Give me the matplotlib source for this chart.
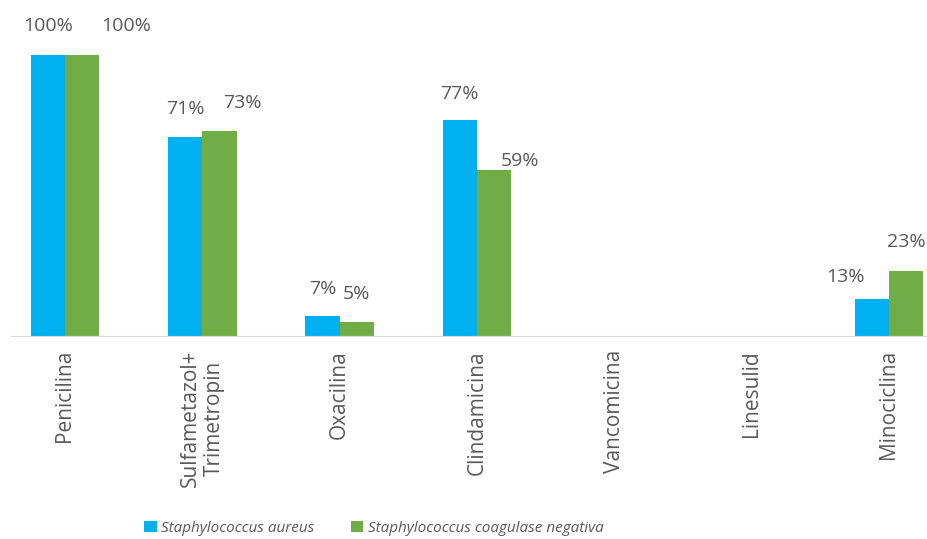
import numpy as np
import matplotlib.pyplot as plt

categorias = ["Penicilina", "Sulfametazol+\nTrimetropin", "Oxacilina", "Clindamicina",
              "Vancomicina", "Linesulid", "Minociclina"]
aureus = [100, 71, 7, 77, 0, 0, 13]
coag_neg = [100, 73, 5, 59, 0, 0, 23]
series_nombres = ["Staphylococcus aureus", "Staphylococcus coagulase negativa"]

# desplazamiento manual de etiquetas (px): (dx, separacion sobre la barra)
desp_aureus = [(0, 20), (0, 19), (0, 18), (0, 17), None, None, (-26, 13)]
desp_coag = [(44, 20), (23, 19), (0, 19), (26, 0), None, None, (0, 20)]

plt.rcParams['font.family'] = ['Open Sans', 'DejaVu Sans']
gris = '#595959'

fig = plt.figure(figsize=(9.28, 5.39), dpi=100)
ax = fig.add_axes([0.0, 0.3766, 1.0, 0.5213])

x = np.arange(len(categorias))
ancho = 0.25
b1 = ax.bar(x - ancho / 2, aureus, ancho, color='#00B0F0', label=series_nombres[0])
b2 = ax.bar(x + ancho / 2, coag_neg, ancho, color='#70AD47', label=series_nombres[1])

# etiquetas de datos (solo valores > 0)
for barras, vals, desp in [(b1, aureus, desp_aureus), (b2, coag_neg, desp_coag)]:
    for rect, v, d in zip(barras, vals, desp):
        if v > 0:
            ax.annotate(f"{v}%", (rect.get_x() + rect.get_width() / 2, v),
                        xytext=d, textcoords='offset pixels',
                        ha='center', va='bottom', fontsize=14, color=gris)

ax.set_xlim(-0.473, 6.285)
ax.set_ylim(0, 100)
ax.set_yticks([])
ax.set_xticks(x)
ax.set_xticklabels(categorias, rotation=90, va='top', ha='center',
                   fontsize=15, color=gris)
ax.tick_params(axis='x', length=0, pad=10)
for s in ['top', 'right', 'left']:
    ax.spines[s].set_visible(False)
ax.spines['bottom'].set_color('#D9D9D9')
ax.spines['bottom'].set_bounds(-0.393, 6.285)
ax.patch.set_alpha(0)

leg = fig.legend(handles=[b1, b2], loc='center', bbox_to_anchor=(0.403, 0.02),
                 ncol=2, frameon=False, handlelength=0.8, handleheight=0.8,
                 handletextpad=0.3, columnspacing=2.4,
                 prop={'style': 'italic', 'size': 11})
for t in leg.get_texts():
    t.set_color(gris)

fig.savefig('out.png', dpi=100)
